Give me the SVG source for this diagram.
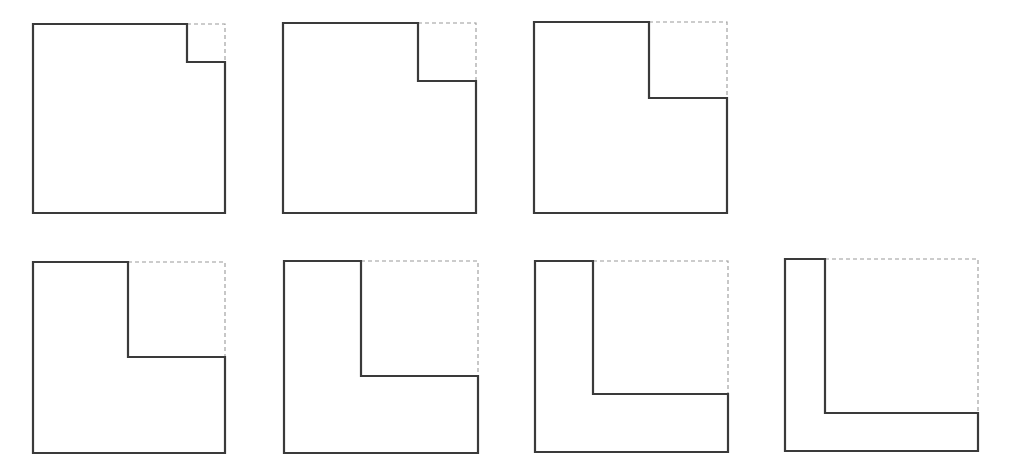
<svg xmlns="http://www.w3.org/2000/svg" width="1010" height="475" viewBox="0 0 1010 475">
<style>
.s{fill:none;stroke:#3a3a3a;stroke-width:2.2;stroke-linejoin:miter}
.d{fill:none;stroke:#9a9a9a;stroke-width:1.1;stroke-dasharray:4 3}
</style>
<rect width="1010" height="475" fill="#fff"/>
<g id="shape1">
<path class="d" d="M187,24 H225 V62"/>
<path class="s" d="M33,24 H187 V62 H225 V213 H33 Z"/>
</g>
<g id="shape2">
<path class="d" d="M418,23 H476 V81"/>
<path class="s" d="M283,23 H418 V81 H476 V213 H283 Z"/>
</g>
<g id="shape3">
<path class="d" d="M649,22 H727 V98"/>
<path class="s" d="M534,22 H649 V98 H727 V213 H534 Z"/>
</g>
<g id="shape4">
<path class="d" d="M128,262 H225 V357"/>
<path class="s" d="M33,262 H128 V357 H225 V453 H33 Z"/>
</g>
<g id="shape5">
<path class="d" d="M361,261 H478 V376"/>
<path class="s" d="M284,261 H361 V376 H478 V453 H284 Z"/>
</g>
<g id="shape6">
<path class="d" d="M593,261 H728 V394"/>
<path class="s" d="M535,261 H593 V394 H728 V452 H535 Z"/>
</g>
<g id="shape7">
<path class="d" d="M825,259 H978 V413"/>
<path class="s" d="M785,259 H825 V413 H978 V451 H785 Z"/>
</g>
</svg>
